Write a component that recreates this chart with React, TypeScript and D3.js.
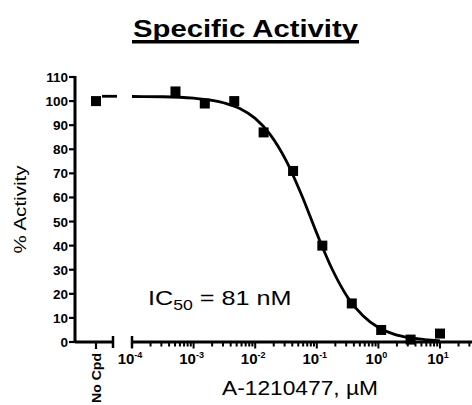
import { FC } from 'react';
import * as d3 from 'd3';

// measured points (µM, % activity), 3-fold dilution series
const concentrations = [0.000508, 0.00152, 0.00457, 0.0137, 0.0412, 0.123, 0.37, 1.11, 3.33, 10];
const activity = [104, 99, 100, 87, 71, 40, 16, 5, 1, 3.5];
const noCpdValue = 100;

// fitted curve (log10 µM, % activity)
const curveLogX = [-4, -3.5, -3, -2.5, -2.25, -2, -1.75, -1.5, -1.25, -1, -0.75, -0.5, -0.25, 0, 0.25, 0.5, 0.75, 1];
const curveY = [101.9, 101.8, 101.2, 99.2, 96.9, 92.8, 85.9, 75.4, 61.2, 45.1, 30.2, 18.6, 10.9, 6.0, 3.3, 1.8, 1.0, 0.5];
const curveTop = 102;

const yTicks = [0, 10, 20, 30, 40, 50, 60, 70, 80, 90, 100, 110];
const decades = [-4, -3, -2, -1, 0, 1];

const W = 472;
const H = 405;
const axisX = 75;
const axisY = 342;
const font = '"Liberation Sans", Arial, sans-serif';

const App: FC = () => {
  const y = d3.scaleLinear().domain([0, 110]).range([axisY, 77]);
  const x = d3.scaleLog().domain([1e-4, 10]).range([132, 440]);
  const noCpdX = 96;

  const line = d3
    .line<number>()
    .x((_d, i) => x(Math.pow(10, curveLogX[i])))
    .y(d => y(d))
    .curve(d3.curveMonotoneX);

  const ticks: { v: number; major: boolean }[] = [];
  [...decades, 2].forEach(d => {
    for (let m = 1; m <= 9; m++) {
      const v = m * Math.pow(10, d);
      if (x(v) <= W) ticks.push({ v, major: m === 1 });
    }
  });

  return (
    <svg width={W} height={H} style={{ position: 'absolute', left: 0, top: 0, background: '#fff' }} fontFamily={font}>
      {/* title */}
      <text x={133} y={37} fontSize={24} fontWeight="bold" textLength={225} lengthAdjust="spacingAndGlyphs">Specific Activity</text>
      <rect x={132} y={40} width={227} height={3.5} fill="#000" />

      {/* y axis */}
      <line x1={axisX} x2={axisX} y1={y(110) - 1} y2={axisY + 1} stroke="#000" strokeWidth={3} />
      {yTicks.map(t => (
        <g key={t}>
          <line x1={axisX - 6} x2={axisX} y1={y(t)} y2={y(t)} stroke="#000" strokeWidth={2.2} />
          <text x={axisX - 7} y={y(t) + 5} textAnchor="end" fontSize={13.5} fontWeight="bold">{t}</text>
        </g>
      ))}
      <text transform={`translate(26,${(y(110) + axisY) / 2}) rotate(-90)`} textAnchor="middle" fontSize={16} textLength={88} lengthAdjust="spacingAndGlyphs">% Activity</text>

      {/* x axis: no compound segment */}
      <line x1={axisX} x2={114} y1={axisY} y2={axisY} stroke="#000" strokeWidth={3} />
      <line x1={113} x2={113} y1={axisY - 6} y2={axisY + 6} stroke="#000" strokeWidth={2.5} />
      <line x1={noCpdX} x2={noCpdX} y1={axisY} y2={axisY + 7} stroke="#000" strokeWidth={2.2} />
      <text transform={`translate(${noCpdX + 5},${axisY + 11}) rotate(-90)`} textAnchor="end" fontSize={13.5} fontWeight="bold" textLength={50} lengthAdjust="spacingAndGlyphs">No Cpd</text>

      {/* x axis: log segment */}
      <line x1={x(1e-4)} x2={W} y1={axisY} y2={axisY} stroke="#000" strokeWidth={3} />
      <line x1={x(1e-4)} x2={x(1e-4)} y1={axisY - 6} y2={axisY + 6} stroke="#000" strokeWidth={2.5} />
      {ticks.map((t, i) => (
        <line key={i} x1={x(t.v)} x2={x(t.v)} y1={axisY} y2={axisY + (t.major ? 6.5 : 4.5)} stroke="#000" strokeWidth={2} />
      ))}
      {decades.map(d => (
        <text key={d} x={x(Math.pow(10, d)) - 2} y={axisY + 22} textAnchor="middle" fontSize={15} fontWeight="bold">
          10<tspan dy={-6} fontSize={9}>{d}</tspan>
        </text>
      ))}
      <text x={300} y={395} textAnchor="middle" fontSize={20} textLength={156} lengthAdjust="spacingAndGlyphs">A-1210477, µM</text>

      {/* fit */}
      <line x1={102} x2={117} y1={y(curveTop)} y2={y(curveTop)} stroke="#000" strokeWidth={2.8} />
      <path d={line(curveY) ?? ''} fill="none" stroke="#000" strokeWidth={2.8} />

      {/* points */}
      <rect x={noCpdX - 5} y={y(noCpdValue) - 5} width={10} height={10} fill="#000" />
      {concentrations.map((c, i) => (
        <rect key={i} x={x(c) - 5} y={y(activity[i]) - 5} width={10} height={10} fill="#000" />
      ))}

      {/* annotation */}
      <g transform="translate(148,305) scale(1.26,1)">
        <text x={0} y={0} fontSize={20}>
          IC<tspan dy={5} fontSize={14}>50</tspan><tspan dy={-5}> = 81 nM</tspan>
        </text>
      </g>
    </svg>
  );
};

export default App;
